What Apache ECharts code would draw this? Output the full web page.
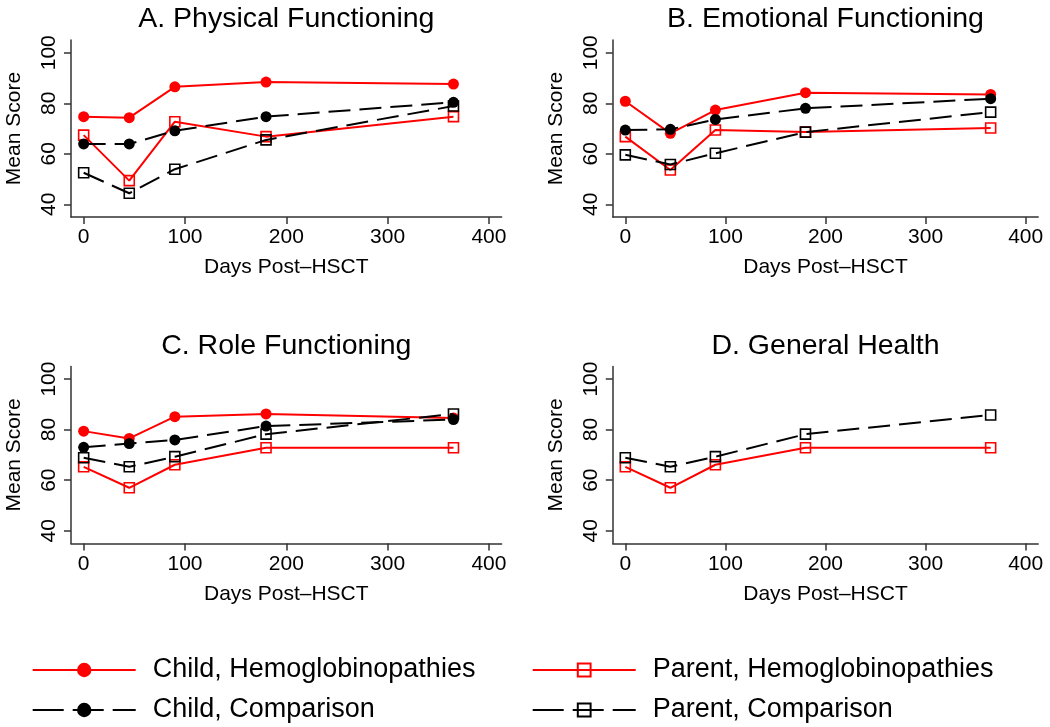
<!DOCTYPE html>
<html>
<head>
<meta charset="utf-8">
<script src="https://cdn.jsdelivr.net/npm/echarts@6/dist/echarts.min.js"></script>
<style>
html,body{margin:0;padding:0;background:#fff;}
#chart{width:1050px;height:727px;}
</style>
</head>
<body>
<div id="chart"></div>
<script>
// ---- data ----
const days = [0, 45, 90, 180, 365];
const xTicks = [0, 100, 200, 300, 400];
const yTicks = [40, 60, 80, 100];
const panelTitles = ['A. Physical Functioning', 'B. Emotional Functioning', 'C. Role Functioning', 'D. General Health'];
const seriesNames = ['Child, Hemoglobinopathies', 'Parent, Hemoglobinopathies', 'Child, Comparison', 'Parent, Comparison'];

// A. Physical Functioning
const childHemoPF  = [74.7, 74.3, 86.5, 88.4, 87.6];
const parentHemoPF = [67.4, 49.4, 72.7, 66.8, 74.7];
const childCompPF  = [63.9, 63.9, 69.1, 74.7, 80.4];
const parentCompPF = [52.5, 44.4, 53.9, 65.5, 78.9];
// B. Emotional Functioning
const childHemoEF  = [80.8, 68.1, 77.3, 84.2, 83.5];
const parentHemoEF = [66.8, 53.6, 69.4, 68.6, 70.2];
const childCompEF  = [69.4, 69.7, 73.6, 78.0, 81.8];
const parentCompEF = [59.6, 55.8, 60.2, 68.6, 76.5];
// C. Role Functioning
const childHemoRF  = [79.4, 76.5, 85.1, 86.2, 84.6];
const parentHemoRF = [65.3, 57.0, 66.1, 72.8, 72.8];
const childCompRF  = [73.0, 74.5, 75.9, 81.4, 84.0];
const parentCompRF = [68.9, 65.3, 69.3, 78.2, 86.2];
// D. General Health (parent report only)
const parentHemoGH = [65.3, 57.0, 66.1, 72.8, 72.8];
const parentCompGH = [68.9, 65.3, 69.3, 78.2, 85.8];

// ---- layout / style ----
const FONT = 'Liberation Sans, Arial, Helvetica, sans-serif';
const RED = '#ff0000';
const BLACK = '#000000';
const AXIS = '#333333';
const grids = [
  {left: 71,    top: 40.1,  width: 430.6, height: 176.9},
  {left: 612.8, top: 40.1,  width: 425.4, height: 176.9},
  {left: 71,    top: 366.4, width: 430.6, height: 177},
  {left: 612.8, top: 366.4, width: 425.4, height: 177}
];
const titleTops = [4.5, 4.5, 332, 332];

const styles = {
  'Child, Hemoglobinopathies':  {color: RED,   dash: 'solid',  symbol: 'circle', filled: true,  z: 2},
  'Parent, Hemoglobinopathies': {color: RED,   dash: 'solid',  symbol: 'rect',   filled: false, z: 3},
  'Child, Comparison':          {color: BLACK, dash: [22, 9],  symbol: 'circle', filled: true,  z: 4},
  'Parent, Comparison':         {color: BLACK, dash: [22, 9],  symbol: 'rect',   filled: false, z: 5}
};

const panelData = [
  {'Child, Hemoglobinopathies': childHemoPF, 'Parent, Hemoglobinopathies': parentHemoPF, 'Child, Comparison': childCompPF, 'Parent, Comparison': parentCompPF},
  {'Child, Hemoglobinopathies': childHemoEF, 'Parent, Hemoglobinopathies': parentHemoEF, 'Child, Comparison': childCompEF, 'Parent, Comparison': parentCompEF},
  {'Child, Hemoglobinopathies': childHemoRF, 'Parent, Hemoglobinopathies': parentHemoRF, 'Child, Comparison': childCompRF, 'Parent, Comparison': parentCompRF},
  {'Parent, Hemoglobinopathies': parentHemoGH, 'Parent, Comparison': parentCompGH}
];

const title = [], grid = [], xAxis = [], yAxis = [], series = [];
grids.forEach((g, i) => {
  grid.push(Object.assign({containLabel: false}, g));
  title.push({
    text: panelTitles[i], left: g.left + g.width / 2, top: titleTops[i], textAlign: 'center', padding: 0,
    textStyle: {fontFamily: FONT, fontSize: 28.5, fontWeight: 'normal', color: '#000'}
  });
  xAxis.push({
    type: 'value', gridIndex: i, min: -12.5, max: 412.5,
    name: 'Days Post\u2013HSCT', nameLocation: 'middle', nameGap: 40,
    nameTextStyle: {fontFamily: FONT, fontSize: 21, color: '#000'},
    axisLine: {show: true, onZero: false, lineStyle: {color: AXIS, width: 1.5}},
    axisTick: {show: true, length: 7, customValues: xTicks, lineStyle: {color: AXIS, width: 1.5}},
    axisLabel: {customValues: xTicks, margin: 10, fontFamily: FONT, fontSize: 21, color: '#000'},
    splitLine: {show: false}
  });
  yAxis.push({
    type: 'value', gridIndex: i, min: 35, max: 105,
    name: 'Mean Score', nameLocation: 'middle', nameGap: 46,
    nameTextStyle: {fontFamily: FONT, fontSize: 21, color: '#000'},
    axisLine: {show: true, onZero: false, lineStyle: {color: AXIS, width: 1.5}},
    axisTick: {show: true, length: 7, customValues: yTicks, lineStyle: {color: AXIS, width: 1.5}},
    axisLabel: {customValues: yTicks, rotate: 90, margin: 11, fontFamily: FONT, fontSize: 21, color: '#000'},
    splitLine: {show: false}
  });
  seriesNames.forEach(name => {
    const vals = panelData[i][name];
    if (!vals) return;
    const s = styles[name];
    series.push({
      name: name, type: 'line', xAxisIndex: i, yAxisIndex: i,
      data: days.map((d, k) => [d, vals[k]]),
      symbol: s.symbol, symbolSize: s.filled ? 11 : 10,
      showAllSymbol: true, z: s.z,
      lineStyle: {color: s.color, width: 2, type: s.dash},
      itemStyle: s.filled ? {color: s.color} : {color: 'rgba(0,0,0,0)', borderColor: s.color, borderWidth: 1.6},
      emphasis: {disabled: true},
      animation: false
    });
  });
});

const legendPos = [
  {name: 'Child, Hemoglobinopathies', left: 31.7, top: 656.5, dash: 'solid', h: 18},
  {name: 'Parent, Hemoglobinopathies', left: 531.7, top: 656.5, dash: 'solid', h: 16},
  {name: 'Child, Comparison', left: 31.7, top: 696.5, dash: [31, 9], h: 18},
  {name: 'Parent, Comparison', left: 531.7, top: 696.5, dash: [31, 9], h: 16}
];
const legend = legendPos.map(p => ({
  data: [p.name], left: p.left, top: p.top, padding: 0,
  itemWidth: 103, itemHeight: p.h,
  lineStyle: {type: p.dash, width: 2},
  textStyle: {fontFamily: FONT, fontSize: 27, color: '#000', padding: [0, 0, 0, 12]},
  selectedMode: false
}));

const chart = echarts.init(document.getElementById('chart'), null, {renderer: 'canvas'});
chart.setOption({
  backgroundColor: '#ffffff',
  animation: false,
  title, grid, xAxis, yAxis, series, legend
});
</script>
</body>
</html>
